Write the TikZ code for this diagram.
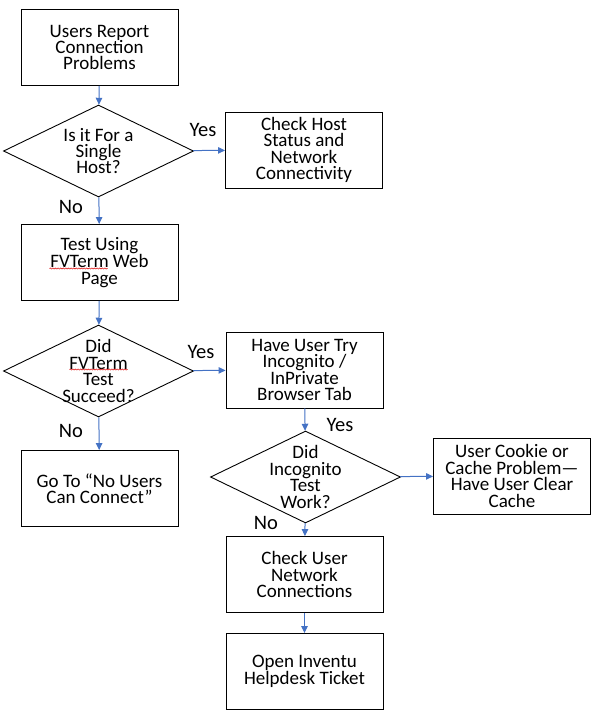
\documentclass[tikz,border=0pt]{standalone}
\usepackage{fontspec}
\setmainfont{Carlito}
\usepackage{xcolor}
\usepackage{tikz}
\usetikzlibrary{shapes.geometric,arrows.meta,decorations.pathmorphing}

\definecolor{flowblue}{HTML}{4472C4}
\definecolor{spellred}{HTML}{E02020}

\begin{document}
\begin{tikzpicture}[x=1pt,y=-1pt,
    txt/.style={align=center,font=\fontsize{19}{16.4}\selectfont},
    stepbox/.style={draw,line width=0.9pt,minimum width=157pt,minimum height=76pt,inner sep=0pt,txt},
    dec/.style={diamond,draw,line width=0.9pt,minimum width=190pt,minimum height=92pt,inner sep=0pt},
    flow/.style={flowblue,line width=1pt,-{Triangle[length=7pt,width=6.5pt]}},
    ans/.style={font=\fontsize{20.5}{20}\selectfont},
    squiggle/.style={spellred,line width=.6pt,decorate,decoration={snake,amplitude=.55pt,segment length=2.6pt}}]
  \useasboundingbox (0,0) rectangle (596,718);
  % process boxes
  \node[stepbox] (report) at (99.5,47.5) {Users Report\\Connection\\Problems};
  \node[stepbox] (hoststat) at (304,150) {Check Host\\Status and\\Network\\Connectivity};
  \node[stepbox] (webtest) at (99.5,262.5) {Test Using\\FVTerm Web\\Page};
  \node[stepbox] (incog) at (304.5,370) {Have User Try\\Incognito /\\InPrivate\\Browser Tab};
  \node[stepbox] (nousers) at (99.5,488.5) {Go To “No Users\\Can Connect”};
  \node[stepbox] (cache) at (512,476) {User Cookie or\\Cache Problem—\\Have User Clear\\Cache};
  \node[stepbox] (netconn) at (304.5,574.5) {Check User\\Network\\Connections};
  \node[stepbox] (ticket) at (304.5,671.5) {Open Inventu\\Helpdesk Ticket};
  % decisions
  \node[dec,label={[txt]center:Is it For a\\Single\\Host?}] (single) at (98.5,151) {};
  \node[dec,label={[txt]center:Did\\FVTerm\\Test\\Succeed?}] (fvok) at (98.5,371) {};
  \node[dec,label={[txt]center:Did\\Incognito\\Test\\Work?}] (incogok) at (305.5,477) {};
  % spell-check marks under FVTerm
  \draw[squiggle] ([shift={(-50,6)}]webtest.center) -- ([shift={(8,6)}]webtest.center);
  \draw[squiggle] ([shift={(-29,-1.5)}]fvok.center) -- ([shift={(29,-1.5)}]fvok.center);
  % connectors
  \draw[flow] (report) -- (single);
  \draw[flow] (single) -- (hoststat);
  \draw[flow] (single) -- (webtest);
  \draw[flow] (webtest) -- (fvok);
  \draw[flow] (fvok) -- (incog);
  \draw[flow] (fvok) -- (nousers);
  \draw[flow] (incog) -- (incogok);
  \draw[flow] (incogok) -- (cache);
  \draw[flow] (incogok) -- (netconn);
  \draw[flow] (netconn) -- (ticket);
  % answers
  \node[ans] (y1) at (203,130) {Yes};
  \node[ans] (n1) at (71,207) {No};
  \node[ans] (y2) at (201,352) {Yes};
  \node[ans] (n2) at (71,431) {No};
  \node[ans] (y3) at (340,425) {Yes};
  \node[ans] (n3) at (266,523) {No};
\end{tikzpicture}
\end{document}
